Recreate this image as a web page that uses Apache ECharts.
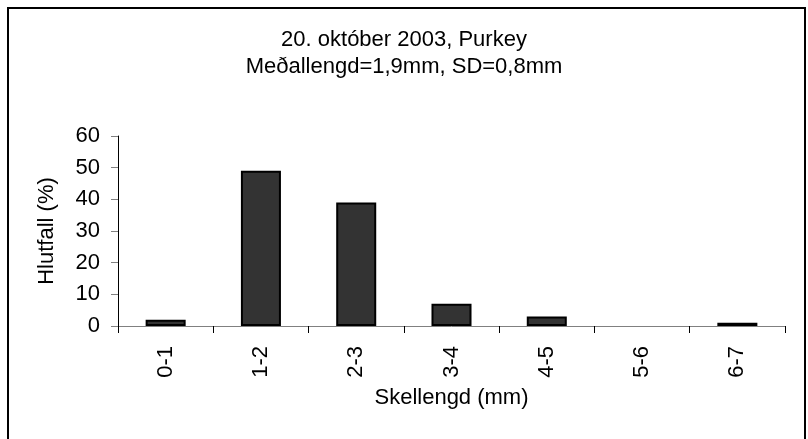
<!DOCTYPE html>
<html>
<head>
<meta charset="utf-8">
<script src="https://cdn.jsdelivr.net/npm/echarts@6/dist/echarts.min.js"></script>
<style>
  html, body { margin: 0; padding: 0; background: #fff; }
  #chart { width: 808px; height: 439px; }
</style>
</head>
<body>
<div id="chart"></div>
<script>
// shell length classes and share of shells per class
const categories = ['0-1', '1-2', '2-3', '3-4', '4-5', '5-6', '6-7']
const shares = [2, 49, 39, 7, 3, 0, 1]
const titleLines = ['20. október 2003, Purkey', 'Meðallengd=1,9mm, SD=0,8mm']

const font = 'Liberation Sans, Arial, sans-serif'

// empty classes get no outline, like the original
let barData = shares.map(v => ({
  value: v,
  itemStyle: v === 0 ? { borderWidth: 0 } : {}
}))

let chart = echarts.init(document.getElementById('chart'))
chart.setOption({
  animation: false,
  backgroundColor: '#fff',
  title: {
    text: titleLines.join('\n'),
    left: 'center',
    top: 21,
    textStyle: {
      fontFamily: font,
      fontSize: 22,
      fontWeight: 'normal',
      color: '#000',
      lineHeight: 27
    }
  },
  graphic: [{
    type: 'rect',
    shape: { x: 8, y: 8, width: 797, height: 450 },
    style: { fill: 'none', stroke: '#000', lineWidth: 2 },
    silent: true
  }],
  grid: {
    left: 118,
    right: 23,
    top: 136,
    bottom: 113
  },
  xAxis: {
    type: 'category',
    data: categories,
    name: 'Skellengd (mm)',
    nameLocation: 'middle',
    nameGap: 61,
    nameMoveOverlap: false,
    nameTextStyle: { fontFamily: font, fontSize: 22, color: '#000' },
    axisLine: { lineStyle: { color: '#808080', width: 1 } },
    axisTick: { show: true, length: 7, lineStyle: { color: '#000' } },
    axisLabel: {
      rotate: 90,
      margin: 20,
      fontFamily: font,
      fontSize: 22,
      color: '#000'
    }
  },
  yAxis: {
    type: 'value',
    min: 0,
    max: 60,
    interval: 10,
    name: 'Hlutfall (%)',
    nameLocation: 'middle',
    nameGap: 60,
    nameMoveOverlap: false,
    nameTextStyle: { fontFamily: font, fontSize: 22, color: '#000' },
    axisLine: { show: true, lineStyle: { color: '#000', width: 1 } },
    axisTick: { show: true, length: 7, lineStyle: { color: '#808080' } },
    splitLine: { show: false },
    axisLabel: {
      margin: 18,
      fontFamily: font,
      fontSize: 22,
      color: '#000'
    }
  },
  series: [{
    type: 'bar',
    data: barData,
    barWidth: '42%',
    itemStyle: {
      color: '#333333',
      borderColor: '#000',
      borderWidth: 2
    }
  }]
})
</script>
</body>
</html>
